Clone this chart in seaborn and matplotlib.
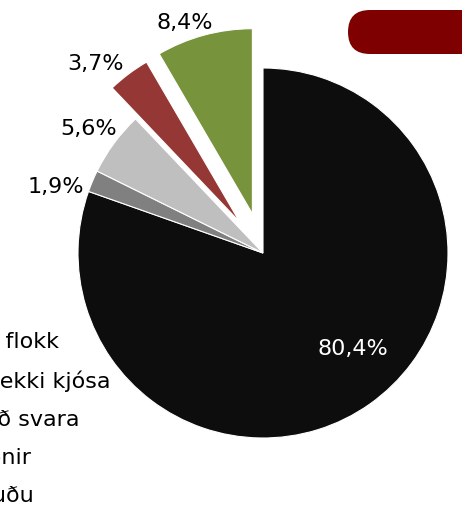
import numpy as np
import matplotlib
matplotlib.use("Agg")
import matplotlib.pyplot as plt
import seaborn as sns
from matplotlib.patches import FancyBboxPatch

sns.set_theme(style="white")
plt.rcParams['font.family'] = ['DejaVu Sans']
plt.rcParams['text.color'] = '#000000'

# -----------------------------
# Data
# -----------------------------
categories = ["Nefndu flokk", "Myndu ekki kjósa", "Neita að svara", "Óákveðnir", "Skila auðu"]
shares = [80.4, 1.9, 5.6, 3.7, 8.4]
pct_labels = ["80,4%", "1,9%", "5,6%", "3,7%", "8,4%"]
colors = ["#0D0D0D", "#808080", "#BFBFBF", "#953735", "#77933C"]
explode = [0, 0, 0, 0.21, 0.22]

# label placement (pie-radius units, relative to centre)
label_xy = [(0.486, -0.519), (-1.119, 0.357), (-0.940, 0.670), (-0.903, 1.021), (-0.422, 1.245)]

W, H, DPI = 462, 507, 100
R = 185            # pie radius in px
cx, cy = 263, 254  # pie centre in px (from bottom-left)

fig = plt.figure(figsize=(W / DPI, H / DPI), dpi=DPI)
ax = fig.add_axes([0, 0, 1, 1])

wedges, _ = ax.pie(shares, colors=colors, explode=explode, startangle=90,
                   counterclock=False,
                   wedgeprops=dict(edgecolor="white", linewidth=0.8))
ax.set_xlim(-cx / R, (W - cx) / R)
ax.set_ylim(-cy / R, (H - cy) / R)
ax.set_aspect("auto")
ax.axis("off")

for i, (lab, (x, y)) in enumerate(zip(pct_labels, label_xy)):
    ax.text(x, y, lab, ha="center", va="center", fontsize=16,
            color="white" if i == 0 else "#000000")

# legend, mostly cut off at the left edge like the original
fs_px = 16 * DPI / 72
leg = fig.legend(wedges, categories, loc="center left", frameon=False,
                 fontsize=16, borderaxespad=0, handlelength=2.0,
                 handletextpad=0.8, labelspacing=0.82,
                 labelcolor="#000000",
                 bbox_to_anchor=((-82 - 3.2 * fs_px) / W, 88 / H),
                 bbox_transform=fig.transFigure)

# dark red rounded tab at top right
tab = FancyBboxPatch((348 / DPI, (H - 54) / DPI), 2.0, 44 / DPI,
                     boxstyle="round,pad=0,rounding_size=0.22",
                     transform=fig.dpi_scale_trans, facecolor="#7F0000",
                     edgecolor="none", clip_on=False)
fig.patches.append(tab)

fig.savefig("out.png", dpi=DPI)
